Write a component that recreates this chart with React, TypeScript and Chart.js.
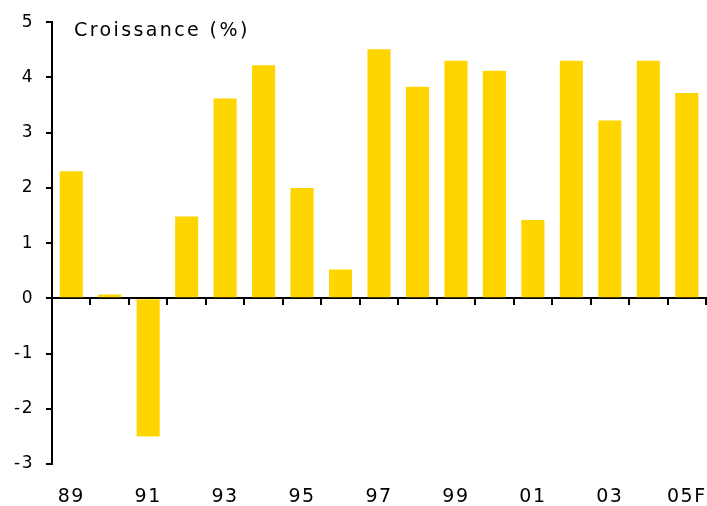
import React, { useEffect, useRef } from "react";
import { Chart, registerables } from "chart.js";

Chart.register(...registerables);

const years = ["89", "90", "91", "92", "93", "94", "95", "96", "97", "98", "99", "00", "01", "02", "03", "04", "05F"];
const growth = [2.3, 0.07, -2.5, 1.48, 3.62, 4.22, 2.0, 0.52, 4.51, 3.83, 4.3, 4.12, 1.42, 4.3, 3.22, 4.3, 3.72];
const yMin = -3;
const yMax = 5;
const titleText = "Croissance (%)";

const FONT = "'DejaVu Sans', Verdana, sans-serif";

const spacingPlugin = {
  id: "letterSpacing",
  beforeDraw(chart: any) {
    (chart.ctx as any).letterSpacing = "1.5px";
  },
};

const titlePlugin = {
  id: "innerTitle",
  afterDraw(chart: any) {
    const { ctx, chartArea } = chart;
    ctx.save();
    ctx.font = `19px ${FONT}`;
    (ctx as any).letterSpacing = "2.4px";
    ctx.fillStyle = "#000";
    ctx.textAlign = "left";
    ctx.textBaseline = "middle";
    ctx.fillText(titleText, chartArea.left + 22, chartArea.top + 9);
    ctx.restore();
  },
};

export default function App() {
  const ref = useRef<HTMLCanvasElement>(null);
  useEffect(() => {
    if (!ref.current) return;
    const chart = new Chart(ref.current, {
      type: "bar",
      data: {
        labels: years,
        datasets: [
          {
            data: growth,
            backgroundColor: "#FFD500",
            borderWidth: 0,
            categoryPercentage: 1,
            barPercentage: 0.6,
            xAxisID: "x",
            yAxisID: "y",
          },
        ],
      },
      options: {
        animation: false,
        responsive: true,
        maintainAspectRatio: false,
        layout: { padding: { top: 22, right: 1, left: 0, bottom: 0 } },
        plugins: { legend: { display: false }, tooltip: { enabled: false }, title: { display: false } },
        scales: {
          x: {
            type: "category",
            position: "bottom",
            offset: true,
            border: { display: false },
            grid: { display: false, drawTicks: false, offset: true },
            ticks: {
              autoSkip: false,
              maxRotation: 0,
              padding: 22,
              color: "#000",
              font: { family: FONT, size: 19 },
              callback: (_v: any, i: number) => (i % 2 === 0 ? years[i] : ""),
            },
            afterFit: (s: any) => {
              s.height = 42;
              s.paddingLeft = 0;
              s.paddingRight = 0;
            },
          },
          x2: {
            type: "category",
            labels: years,
            position: { y: 0 } as any,
            offset: true,
            border: { display: true, color: "#000", width: 2 },
            grid: { display: true, drawOnChartArea: false, drawTicks: true, tickLength: 6, offset: true, color: "#000", lineWidth: 2 },
            ticks: { display: false },
          },
          y: {
            min: yMin,
            max: yMax,
            border: { display: true, color: "#000", width: 2 },
            grid: { drawOnChartArea: false, drawTicks: true, tickLength: 6, color: "#000", lineWidth: 2 },
            ticks: {
              stepSize: 1,
              padding: 12,
              color: "#000",
              font: { family: FONT, size: 17 },
            },
            afterFit: (s: any) => {
              s.width = 52;
            },
          },
        },
      },
      plugins: [spacingPlugin, titlePlugin],
    });
    return () => chart.destroy();
  }, []);
  return (
    <div style={{ position: "absolute", left: 0, top: 0, width: 707, height: 506, background: "#fff" }}>
      <canvas ref={ref} />
    </div>
  );
}
